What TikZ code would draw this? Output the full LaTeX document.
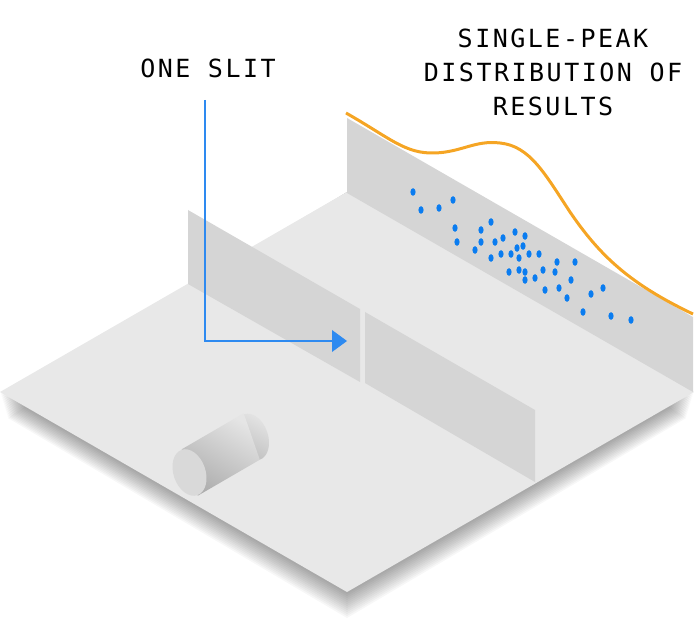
\documentclass[tikz,border=0pt]{standalone}
\usepackage{fontspec}
\newfontfamily\labfont[LetterSpace=10]{DejaVu Sans Mono}
\begin{document}
\begin{tikzpicture}[x=1pt,y=1pt,
  floorc/.style={fill=floorgray},
  screen/.style={fill=screengray},
  dot/.style={fill=dotblue,draw=none},
  lab/.style={font=\labfont\fontsize{25}{34}\selectfont,align=center,text=black}]
\definecolor{floorgray}{HTML}{E8E8E8}
\definecolor{screengray}{HTML}{D5D5D5}
\definecolor{dotblue}{HTML}{0A7CF0}
\definecolor{arrowblue}{HTML}{2E8AF0}
\definecolor{orangec}{HTML}{F5A524}
\useasboundingbox (0,0) rectangle (700,624);
% shadow
\foreach \k in {2,4,...,26}{
  \fill[black,opacity=0.03] ({\k*0.3},{232-\k}) -- (347,{32-\k}) -- ({694-\k*0.3},{232-\k}) -- (347,432) -- cycle;
}
% floor
\fill[floorc] (0,232) -- (347,32) -- (694,232) -- (347,432) -- cycle;
% back screen
\fill[screen] (347,431) -- (693,232) -- (693,307) -- (347,506) -- cycle;
% orange curve
\draw[orangec,line width=3pt] (346,511) .. controls (390,486) and (405,470) .. (435,471)
  .. controls (462,472) and (475,484) .. (500,481)
  .. controls (530,478) and (545,450) .. (570,412)
  .. controls (600,368) and (630,340) .. (693,310);
% dots
\foreach \x/\y in {413/192,421/210,439/208,453/200,455/228,457/242,481/230,491/222,481/242,475/250,495/242,503/238,515/232,525/236,491/258,501/254,511/254,517/248,523/246,519/258,529/254,539/254,509/272,519/270,525/272,525/280,535/278,543/270,555/272,557/262,575/262,571/280,545/290,559/288,567/298,591/294,603/288,583/312,611/316,631/320}
  \fill[dot] (\x,{624-\y}) ellipse (2.6 and 3.8);
% slit screens
\fill[screen] (188,414) -- (360,315) -- (360,242) -- (188,340) -- cycle;
\fill[screen] (365,312) -- (535,214) -- (535,142) -- (365,241) -- cycle;
% arrow
\coordinate (a0) at (205,524);
\coordinate (a1) at (205,283);
\coordinate (a2) at (333,283);
\draw[arrowblue,line width=1.6pt] (a0) -- (a1) -- (a2);
\fill[arrowblue] (332,294) -- (347,283) -- (332,272) -- cycle;
% cylinder
\shade[top color=black!10,bottom color=black!26,shading angle=-30] (252,187) ellipse[x radius=24,y radius=16,rotate=-71];
\shade[top color=black!10,bottom color=black!32,shading angle=-30] (181.7,174.7) -- (243.7,210.7) -- (259.8,164.3) -- (197.8,128.3) -- cycle;
\fill[black!15] (189.5,151.5) ellipse[x radius=24,y radius=16,rotate=-71];
% labels
\node[lab] (l1) at (208,556) {ONE SLIT};
\node[lab] (l2) at (553,552) {SINGLE-PEAK\\DISTRIBUTION OF\\RESULTS};
\end{tikzpicture}
\end{document}
